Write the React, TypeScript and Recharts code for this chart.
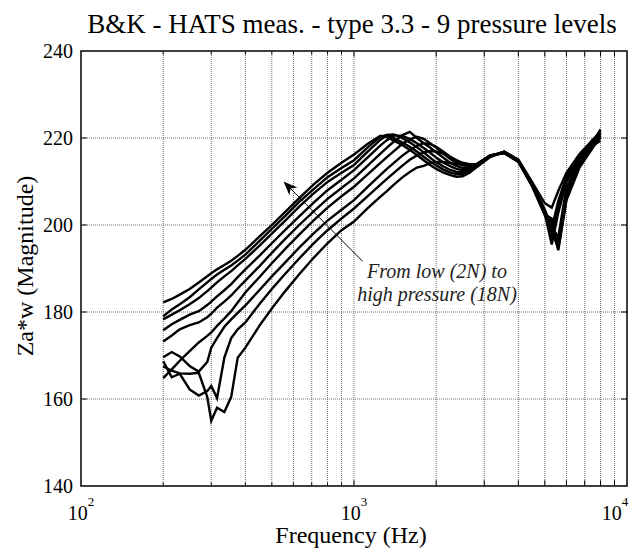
import { LineChart, Line, XAxis, YAxis, ReferenceLine, ReferenceArea, ReferenceDot } from 'recharts';

// frequency grid (Hz) shared by all nine measurements
const FREQ = [200, 215, 230, 250, 270, 290, 300, 315, 335, 355, 375, 400, 450, 500, 560, 630, 710, 800, 900, 1000, 1120, 1250, 1320, 1400, 1500, 1600, 1700, 1800, 1900, 2000, 2120, 2240, 2370, 2500, 2650, 2800, 3150, 3550, 4000, 4500, 5000, 5300, 5600, 6000, 6700, 7500, 8000];

// Za*w magnitude, highest pressure (18N) down to lowest (2N)
const N18 = [182.2, 183.0, 184.0, 185.3, 186.8, 188.2, 188.9, 189.8, 190.8, 191.8, 192.9, 194.3, 197.3, 200.0, 203.0, 206.2, 209.3, 212.0, 214.3, 216.2, 218.6, 220.5, 220.2, 219.4, 218.4, 217.3, 216.1, 214.9, 213.8, 212.9, 212.1, 211.5, 211.1, 211.2, 212.0, 213.2, 215.6, 216.9, 215.0, 209.8, 205.0, 204.0, 207.8, 212.0, 216.3, 219.6, 220.5];
const N16 = [179.0, 180.6, 181.8, 183.4, 185.2, 186.8, 187.6, 188.6, 189.7, 190.7, 191.8, 193.2, 196.3, 199.1, 202.1, 205.3, 208.2, 211.0, 213.1, 214.9, 217.8, 220.3, 220.7, 220.0, 219.0, 218.0, 216.9, 215.7, 214.6, 213.7, 212.8, 212.1, 211.7, 211.7, 212.3, 213.3, 215.7, 216.8, 214.9, 209.6, 203.5, 199.2, 205.5, 211.2, 216.0, 219.5, 221.0];
const N14 = [178.3, 179.4, 180.4, 181.8, 183.2, 184.8, 185.6, 186.8, 188.2, 189.4, 190.7, 192.2, 195.2, 198.0, 201.0, 204.2, 207.2, 209.9, 212.0, 213.8, 216.8, 219.6, 220.7, 220.8, 220.0, 219.0, 217.9, 216.7, 215.5, 214.4, 213.5, 212.7, 212.2, 212.1, 212.6, 213.4, 215.8, 216.8, 214.8, 209.4, 203.0, 197.0, 204.2, 210.6, 215.8, 219.6, 221.6];
const N12 = [175.8, 177.2, 178.2, 179.4, 180.2, 181.6, 182.4, 183.6, 185.0, 186.4, 188.0, 189.8, 192.9, 195.8, 198.9, 202.0, 205.1, 208.0, 210.4, 212.6, 215.5, 218.3, 219.5, 220.6, 220.5, 219.8, 218.8, 217.7, 216.6, 215.5, 214.4, 213.6, 212.9, 212.6, 212.9, 213.5, 215.8, 216.7, 214.7, 209.2, 202.6, 195.5, 202.8, 209.9, 215.3, 219.2, 220.0];
const N10 = [173.2, 174.6, 176.0, 177.0, 177.6, 178.8, 179.6, 181.0, 182.4, 183.8, 185.4, 187.2, 190.5, 193.6, 196.8, 200.0, 203.1, 206.0, 208.5, 210.7, 213.6, 216.4, 217.8, 219.2, 220.6, 221.4, 220.0, 218.8, 217.8, 216.7, 215.5, 214.4, 213.6, 213.1, 213.2, 213.6, 215.9, 216.8, 214.8, 209.3, 203.2, 199.5, 197.2, 208.6, 214.9, 219.0, 222.0];
const N8 = [164.8, 166.8, 168.8, 171.0, 173.0, 174.5, 175.3, 176.8, 178.5, 180.2, 182.2, 184.5, 188.0, 191.2, 194.5, 197.8, 201.0, 204.0, 206.6, 208.8, 211.6, 214.3, 215.6, 217.0, 218.6, 219.7, 220.3, 219.8, 218.8, 217.8, 216.5, 215.3, 214.3, 213.7, 213.5, 213.7, 215.9, 216.7, 214.7, 209.1, 202.8, 200.8, 196.0, 207.6, 214.4, 218.6, 220.6];
const N6 = [169.6, 170.8, 169.8, 167.6, 166.3, 168.5, 171.8, 174.0, 176.6, 178.3, 179.8, 181.5, 185.0, 188.2, 191.4, 194.8, 198.0, 201.0, 203.5, 205.7, 208.7, 211.5, 212.9, 214.3, 215.9, 217.2, 218.2, 218.8, 218.6, 218.0, 216.9, 215.8, 214.8, 214.1, 213.8, 213.8, 215.9, 216.6, 214.6, 209.0, 202.5, 199.8, 195.0, 206.6, 213.9, 218.3, 219.4];
const N4 = [168.7, 165.0, 165.8, 162.2, 160.8, 161.8, 163.0, 160.2, 169.5, 174.0, 176.0, 177.6, 181.8, 185.3, 188.8, 192.3, 195.7, 198.8, 201.5, 203.8, 206.6, 209.3, 210.6, 212.0, 213.6, 215.0, 216.0, 216.7, 217.0, 216.9, 216.4, 215.7, 214.9, 214.3, 214.0, 213.9, 216.0, 216.6, 214.6, 208.9, 202.3, 198.8, 194.5, 206.0, 213.6, 218.1, 221.2];
const N2 = [167.5, 166.5, 165.9, 165.8, 166.0, 160.5, 155.0, 158.0, 157.0, 160.5, 169.5, 171.8, 176.8, 180.8, 184.8, 188.7, 192.4, 195.8, 198.8, 200.8, 203.8, 206.5, 207.8, 209.3, 210.9, 212.2, 213.2, 213.6, 214.2, 214.5, 214.5, 214.3, 214.0, 213.9, 213.9, 213.9, 216.0, 216.5, 214.5, 208.8, 202.4, 201.5, 194.2, 205.7, 213.2, 217.8, 220.2];

const SERIES = ['n18', 'n16', 'n14', 'n12', 'n10', 'n8', 'n6', 'n4', 'n2'];
const VALUES = [N18, N16, N14, N12, N10, N8, N6, N4, N2];

const X_TICKS = [100, 1000, 10000];
const Y_TICKS = [140, 160, 180, 200, 220, 240];
const GRID_X = [200, 300, 400, 500, 600, 700, 800, 900, 1000, 2000, 3000, 4000, 5000, 6000, 7000, 8000, 9000];
const GRID_Y = [160, 180, 200, 220];

const rows = FREQ.map((f, i) => {
  const r: Record<string, number> = { f };
  SERIES.forEach((k, j) => (r[k] = VALUES[j][i]));
  return r;
});

const FONT = 'Liberation Serif, Tinos, DejaVu Serif, serif';
const serif = { fontFamily: FONT };

const LogTick = (props: any) => {
  const { x, y, payload } = props;
  const exp = Math.round(Math.log10(payload.value));
  return (
    <text x={x} y={y + 26} textAnchor="middle" style={serif} fontSize={20} fill="#000">
      <tspan>10</tspan>
      <tspan dy={-14} fontSize={13}>{exp}</tspan>
    </text>
  );
};

const YTick = (props: any) => {
  const { x, y, payload } = props;
  return (
    <text x={x} y={y} dy={7} textAnchor="end" style={serif} fontSize={20} fill="#000">
      {payload.value}
    </text>
  );
};

const Arrow = (p: any) => {
  const { x1, y1, x2, y2 } = p;
  const a = Math.atan2(y2 - y1, x2 - x1);
  const L = 15;
  const w = 0.38;
  const lx = x2 - L * Math.cos(a - w);
  const ly = y2 - L * Math.sin(a - w);
  const rx = x2 - L * Math.cos(a + w);
  const ry = y2 - L * Math.sin(a + w);
  const bx = x2 - 10 * Math.cos(a);
  const by = y2 - 10 * Math.sin(a);
  return (
    <g>
      <line x1={x1} y1={y1} x2={bx} y2={by} stroke="#000" strokeWidth={1} />
      <path d={`M${x2},${y2} L${lx},${ly} L${bx},${by} L${rx},${ry} Z`} fill="#000" />
    </g>
  );
};

const Note = (p: any) => (
  <text x={p.cx} y={p.cy} textAnchor="middle" style={{ ...serif, fontStyle: 'italic' }} fontSize={20} fill="#222">
    <tspan x={p.cx} dy={0}>From low (2N) to</tspan>
    <tspan x={p.cx} dy={23}>high pressure (18N)</tspan>
  </text>
);

export default function App() {
  return (
    <div style={{ position: 'absolute', left: 0, top: 0, width: 635, height: 553, background: '#fff' }}>
      <LineChart width={635} height={553} data={rows} margin={{ top: 51, right: 8, left: 0, bottom: 0 }}>
        <XAxis
          dataKey="f"
          type="number"
          scale="log"
          domain={[100, 10000]}
          ticks={X_TICKS}
          tick={<LogTick />}
          tickLine={false}
          axisLine={false}
          height={67}
          allowDataOverflow
        />
        <YAxis
          type="number"
          domain={[140, 240]}
          ticks={Y_TICKS}
          tick={<YTick />}
          tickLine={false}
          axisLine={false}
          width={81}
        />
        {GRID_X.map((g) => (
          <ReferenceLine key={'gx' + g} x={g} stroke="#6e6e6e" strokeDasharray="1 1" strokeWidth={1} />
        ))}
        {GRID_Y.map((g) => (
          <ReferenceLine key={'gy' + g} y={g} stroke="#6e6e6e" strokeDasharray="1 1" strokeWidth={1} />
        ))}
        {GRID_X.map((g) => (
          <ReferenceLine key={'tb' + g} segment={[{ x: g, y: 140 }, { x: g, y: g % 1000 === 0 ? 141.3 : 140.8 }]} stroke="#000" />
        ))}
        {GRID_X.map((g) => (
          <ReferenceLine key={'tt' + g} segment={[{ x: g, y: 240 }, { x: g, y: g % 1000 === 0 ? 238.7 : 239.2 }]} stroke="#000" />
        ))}
        {GRID_Y.map((g) => (
          <ReferenceLine key={'tl' + g} segment={[{ x: 100, y: g }, { x: 105, y: g }]} stroke="#000" />
        ))}
        {GRID_Y.map((g) => (
          <ReferenceLine key={'tr' + g} segment={[{ x: 9520, y: g }, { x: 10000, y: g }]} stroke="#000" />
        ))}
        <ReferenceArea x1={100} x2={10000} y1={140} y2={240} fill="none" stroke="#000" strokeWidth={1.5} fillOpacity={0} />
        {SERIES.map((k) => (
          <Line key={k} dataKey={k} type="linear" stroke="#000" strokeWidth={2.4} dot={false} isAnimationActive={false} />
        ))}
        <ReferenceLine segment={[{ x: 1074, y: 191.7 }, { x: 552, y: 210 }]} shape={<Arrow />} />
        <ReferenceDot x={2014} y={187.8} r={0} shape={<Note />} />
      </LineChart>
      <svg width={635} height={553} style={{ position: 'absolute', left: 0, top: 0, pointerEvents: 'none' }}>
        <text x={352} y={33} textAnchor="middle" style={serif} fontSize={27} fill="#000">
          B&amp;K - HATS meas. - type 3.3 - 9 pressure levels
        </text>
        <text x={351} y={543} textAnchor="middle" style={serif} fontSize={24} fill="#000">
          Frequency (Hz)
        </text>
        <text transform="translate(33,266) rotate(-90)" textAnchor="middle" style={serif} fontSize={24} fill="#000">
          Za*w (Magnitude)
        </text>
      </svg>
    </div>
  );
}
